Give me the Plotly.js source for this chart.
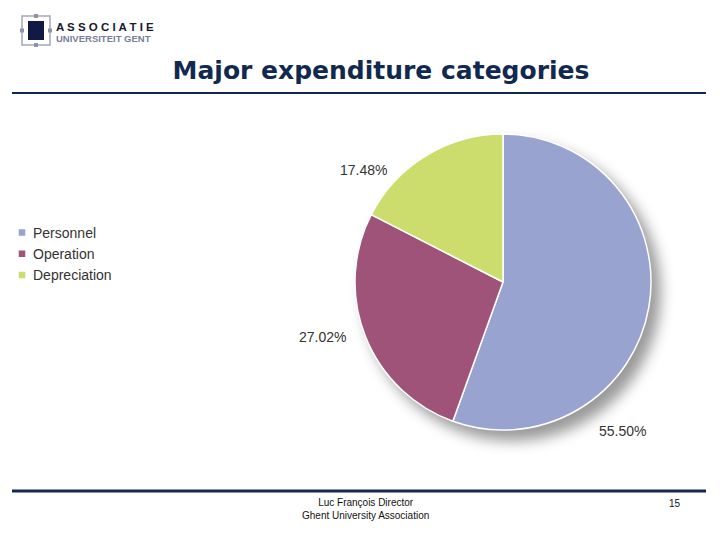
<!DOCTYPE html>
<html>
<head>
<meta charset="utf-8">
<script src="https://cdn.plot.ly/plotly-3.0.1.min.js"></script>
<style>
  html, body { margin: 0; padding: 0; background: #ffffff; }
  #chart { width: 720px; height: 540px; }
  /* soft drop shadow under the pie */
  .pielayer { filter: drop-shadow(9px 10px 7px rgba(0,0,0,0.40)); }
</style>
</head>
<body>
<div id="chart"></div>
<script>
// Expenditure shares (%)
const categories = ["Personnel", "Operation", "Depreciation"];
const shares = [55.50, 27.02, 17.48];
const sliceColors = ["#98a3d0", "#9f5378", "#ccdd6e"];

// page is laid out in pixels; convert to paper fractions
const W = 720, H = 540;
const px = v => v / W;
const py = v => 1 - v / H;

// percentage labels placed around the pie
const labelSpots = [[622, 431], [322, 337], [363, 170]];
const annotations = categories.map((c, i) => ({
  xref: "paper", yref: "paper",
  x: px(labelSpots[i][0]), y: py(labelSpots[i][1]),
  xanchor: "center", yanchor: "middle",
  text: shares[i].toFixed(2) + "%",
  showarrow: false,
  font: { family: "Liberation Sans, Arial, sans-serif", size: 14, color: "#333333" }
}));

// logo text and footer
annotations.push(
  { xref: "paper", yref: "paper", x: px(54), y: py(27), xanchor: "left", yanchor: "middle",
    text: "A S S O C I A T I E", showarrow: false,
    font: { family: "Liberation Sans, Arial, sans-serif", size: 11.5, color: "#15192e", weight: 700 } },
  { xref: "paper", yref: "paper", x: px(54), y: py(38), xanchor: "left", yanchor: "middle",
    text: "UNIVERSITEIT GENT", showarrow: false,
    font: { family: "Liberation Sans, Arial, sans-serif", size: 9.5, color: "#787d97", weight: 700 } },
  { xref: "paper", yref: "paper", x: px(365), y: py(509), xanchor: "center", yanchor: "middle",
    text: "Luc François Director<br>Ghent University Association", showarrow: false,
    font: { family: "Liberation Sans, Arial, sans-serif", size: 10, color: "#111111" } },
  { xref: "paper", yref: "paper", x: px(675), y: py(503), xanchor: "center", yanchor: "middle",
    text: "15", showarrow: false,
    font: { family: "Liberation Sans, Arial, sans-serif", size: 10, color: "#111111" } }
);

const shapes = [
  // title rule
  { type: "line", xref: "paper", yref: "paper", x0: px(12), x1: px(706), y0: py(93), y1: py(93),
    line: { color: "#12294f", width: 2 } },
  // footer rule
  { type: "line", xref: "paper", yref: "paper", x0: px(12), x1: px(706), y0: py(491), y1: py(491),
    line: { color: "#12294f", width: 3 } },
  // logo frame and block
  { type: "rect", xref: "paper", yref: "paper", x0: px(22), x1: px(50), y0: py(45), y1: py(16),
    line: { color: "#a4a8bd", width: 1.5 }, fillcolor: "rgba(0,0,0,0)" },
  { type: "rect", xref: "paper", yref: "paper", x0: px(28), x1: px(44), y0: py(40), y1: py(21),
    line: { width: 0 }, fillcolor: "#101a45" }
];
// small handles on the logo frame
[[36, 16], [22, 30.5], [50, 30.5], [36, 45]].forEach(([cx, cy]) => {
  shapes.push({ type: "rect", xref: "paper", yref: "paper",
    x0: px(cx - 2), x1: px(cx + 2), y0: py(cy + 2), y1: py(cy - 2),
    line: { width: 0 }, fillcolor: "#8f94ad" });
});

const data = [{
  type: "pie",
  labels: categories,
  values: shares,
  sort: false,
  direction: "clockwise",
  rotation: 0,
  textinfo: "none",
  hoverinfo: "label+percent",
  marker: { colors: sliceColors, line: { color: "#ffffff", width: 1.5 } },
  domain: { x: [px(355), px(651)], y: [py(430), py(134)] }
}];

const layout = {
  width: W, height: H,
  margin: { l: 0, r: 0, t: 0, b: 0, autoexpand: false },
  paper_bgcolor: "#ffffff",
  title: {
    text: "Major expenditure categories",
    x: px(381), xanchor: "center", xref: "paper",
    y: py(70), yanchor: "middle", yref: "paper",
    font: { family: "DejaVu Sans, Verdana, sans-serif", size: 25, color: "#12294f", weight: 700 }
  },
  showlegend: true,
  legend: {
    x: px(-7), xanchor: "left", y: py(217), yanchor: "top",
    bgcolor: "rgba(0,0,0,0)",
    font: { family: "Liberation Sans, Arial, sans-serif", size: 14, color: "#333333" }
  },
  annotations: annotations,
  shapes: shapes
};

Plotly.newPlot("chart", data, layout, { displayModeBar: false, staticPlot: true }).then(gd => {
  // compact square swatches sitting close to the legend text
  gd.querySelectorAll(".legendpie").forEach(p => p.setAttribute("d", "M13,4H5V-4H13Z"));
});
</script>
</body>
</html>
